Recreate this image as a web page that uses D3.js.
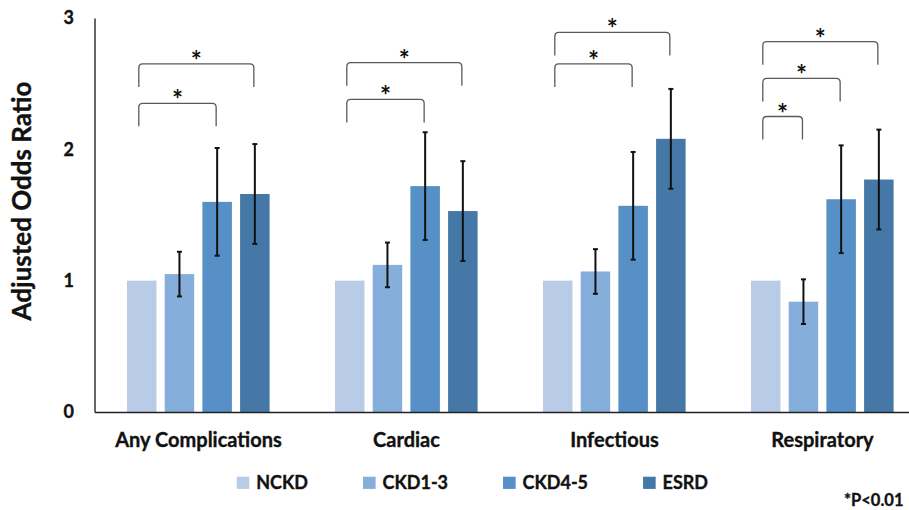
<!DOCTYPE html>
<html>
<head>
<meta charset="utf-8">
<script src="https://cdn.jsdelivr.net/npm/d3@7"></script>
<style>
  html, body { margin: 0; padding: 0; background: #fff; }
  svg { display: block; font-family: Lato, "Open Sans", sans-serif; }
  .heavy { paint-order: stroke; stroke: #111; stroke-width: 0.35px; }
</style>
</head>
<body>
<svg id="chart" width="909" height="510"></svg>
<script>
// ---- data ----
const categories = ["Any Complications", "Cardiac", "Infectious", "Respiratory"];
const series = ["NCKD", "CKD1-3", "CKD4-5", "ESRD"];
const NCKD   = [1.00, 1.00, 1.00, 1.00];
const CKD1_3 = [1.05, 1.12, 1.07, 0.84];
const CKD4_5 = [1.60, 1.72, 1.57, 1.62];
const ESRD   = [1.66, 1.53, 2.08, 1.77];
const CKD1_3_lo = [0.88, 0.95, 0.90, 0.67];
const CKD1_3_hi = [1.22, 1.29, 1.24, 1.01];
const CKD4_5_lo = [1.19, 1.31, 1.16, 1.21];
const CKD4_5_hi = [2.01, 2.13, 1.98, 2.03];
const ESRD_lo   = [1.28, 1.15, 1.70, 1.39];
const ESRD_hi   = [2.04, 1.91, 2.46, 2.15];
const yTicks = [0, 1, 2, 3];
// significance brackets: category, from series, to series, level (odds ratio units)
const bracketCat   = ["Any Complications", "Any Complications", "Cardiac", "Cardiac", "Infectious", "Infectious", "Respiratory", "Respiratory", "Respiratory"];
const bracketFrom  = ["NCKD", "NCKD", "NCKD", "NCKD", "NCKD", "NCKD", "NCKD", "NCKD", "NCKD"];
const bracketTo    = ["CKD4-5", "ESRD", "CKD4-5", "ESRD", "CKD4-5", "ESRD", "CKD1-3", "CKD4-5", "ESRD"];
const bracketLevel = [2.35, 2.65, 2.38, 2.66, 2.65, 2.89, 2.25, 2.54, 2.82];
const yTitle = "Adjusted Odds Ratio";
const note = "*P<0.01";

const values = [NCKD, CKD1_3, CKD4_5, ESRD];
const lows   = [null, CKD1_3_lo, CKD4_5_lo, ESRD_lo];
const highs  = [null, CKD1_3_hi, CKD4_5_hi, ESRD_hi];
const colors = ["#b8cce8", "#85aedb", "#5690c7", "#4577a7"];

const rows = [];
categories.forEach((c, ci) => {
  series.forEach((s, si) => {
    rows.push({cat: c, ser: s, si, v: values[si][ci],
      lo: lows[si] ? lows[si][ci] : null, hi: highs[si] ? highs[si][ci] : null});
  });
});

// ---- layout ----
const svg = d3.select("#chart");
const y = d3.scaleLinear().domain([0, 3]).range([412, 18]);
const x0 = d3.scaleBand().domain(categories).range([94.5, 926.5]).paddingInner(0).paddingOuter(0);
const x1 = d3.scaleBand().domain(series).range([32.5, 175.1]).paddingInner(0.2175).paddingOuter(0);
const color = d3.scaleOrdinal().domain(series).range(colors);
const bw = x1.bandwidth();

// bars
svg.append("g").selectAll("rect").data(rows).join("rect")
  .attr("x", d => x0(d.cat) + x1(d.ser))
  .attr("y", d => y(d.v))
  .attr("width", bw)
  .attr("height", d => y(0) - y(d.v))
  .attr("fill", d => color(d.ser));

// error bars
const eb = svg.append("g").attr("stroke", "#111").attr("stroke-width", 2);
rows.filter(d => d.lo != null).forEach(d => {
  const cx = x0(d.cat) + x1(d.ser) + bw / 2;
  eb.append("line").attr("x1", cx).attr("x2", cx).attr("y1", y(d.hi)).attr("y2", y(d.lo));
  eb.append("line").attr("x1", cx - 2.5).attr("x2", cx + 2.5).attr("y1", y(d.hi)).attr("y2", y(d.hi));
  eb.append("line").attr("x1", cx - 2.5).attr("x2", cx + 2.5).attr("y1", y(d.lo)).attr("y2", y(d.lo));
});

// y axis
const yAxis = svg.append("g").attr("transform", "translate(94.5,0)")
  .call(d3.axisLeft(y).tickValues(yTicks).tickFormat(d3.format("d")).tickSizeInner(0).tickSizeOuter(0).tickPadding(20.5));
yAxis.select(".domain").attr("stroke", "#333").attr("stroke-width", 1.5);
yAxis.selectAll("text").attr("font-size", 18).attr("font-weight", "bold").attr("fill", "#111")
  .attr("font-family", "Lato, 'Open Sans', sans-serif").attr("class", "heavy");

// x axis
const xAxis = svg.append("g").attr("transform", "translate(0,412)")
  .call(d3.axisBottom(x0).tickSizeInner(0).tickSizeOuter(0).tickPadding(21));
xAxis.select(".domain").attr("stroke", "#222").attr("stroke-width", 1.5);
xAxis.selectAll("text").attr("font-size", 20).attr("font-weight", "bold").attr("fill", "#111")
  .attr("font-family", "Lato, 'Open Sans', sans-serif").attr("class", "heavy");

// y title
svg.append("text")
  .attr("transform", "translate(31,201) rotate(-90)")
  .attr("text-anchor", "middle").attr("class", "heavy")
  .attr("font-size", 26).attr("font-weight", "bold").attr("fill", "#111")
  .text(yTitle);

// brackets
const bg = svg.append("g");
const leg = 23, r = 4;
bracketCat.forEach((c, i) => {
  const xl = x0(c) + x1(bracketFrom[i]) + bw * 0.4;
  const xr = x0(c) + x1(bracketTo[i]) + bw * 0.5 - 1;
  const yt = y(bracketLevel[i]);
  const yb = yt + leg;
  bg.append("path")
    .attr("d", `M${xl},${yb} L${xl},${yt + r} Q${xl},${yt} ${xl + r},${yt} L${xr - r},${yt} Q${xr},${yt} ${xr},${yt + r} L${xr},${yb}`)
    .attr("fill", "none").attr("stroke", "#595959").attr("stroke-width", 1.3);
  bg.append("text")
    .attr("x", (xl + xr) / 2).attr("y", yt + 6)
    .attr("text-anchor", "middle").attr("font-size", 26).attr("font-weight", "bold").attr("fill", "#111")
    .text("*");
});

// legend
const lg = svg.append("g");
let lx = 236.7;
series.forEach((s, i) => {
  lg.append("rect").attr("x", lx).attr("y", 476.7).attr("width", 12.6).attr("height", 12.2).attr("fill", colors[i]);
  const t = lg.append("text").attr("x", lx + 19.5).attr("y", 489).attr("class", "heavy")
    .attr("font-size", 18).attr("font-weight", "bold").attr("fill", "#111").text(s);
  lx = lx + 19.5 + t.node().getComputedTextLength() + 55;
});

// note
svg.append("text").attr("x", 903.5).attr("y", 506).attr("text-anchor", "end").attr("class", "heavy")
  .attr("font-size", 16.5).attr("font-weight", "bold").attr("fill", "#111").text(note);
</script>
</body>
</html>
